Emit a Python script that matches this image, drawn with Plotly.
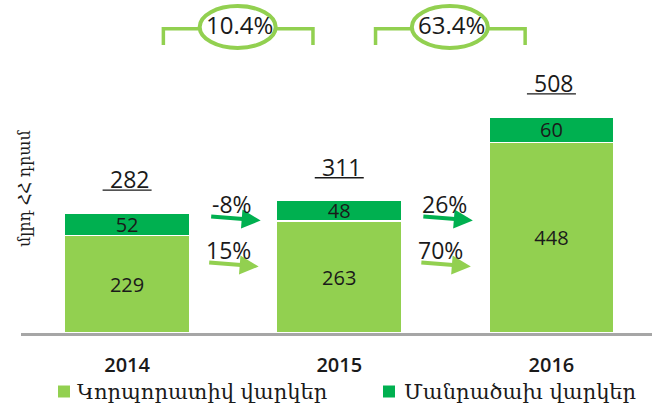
import plotly.graph_objects as go

# ---- data ----
years = ["2014", "2015", "2016"]
corporate = [229, 263, 448]
retail = [52, 48, 60]
totals = [282, 311, 508]
retail_growth = ["-8%", "26%"]
corporate_growth = ["15%", "70%"]
total_growth = ["10.4%", "63.4%"]
series_names = ["Կորպորատիվ վարկեր", "Մանրածախ վարկեր"]
y_title = "մլրդ ՀՀ դրամ"

# ---- style ----
LIGHT = "#92D050"
DARK = "#00B050"
TXT = "#1a1a1a"
NUM_FONT = "Open Sans, Noto Sans, DejaVu Sans"
ARM_FONT = "DejaVu Serif, DejaVu Sans, Noto Sans"

W, H = 652, 408
ML, MB = 21, 75
PH = H - MB
X0, X1 = -0.5, 2.474
YMAX = 783
UNIT = (W - ML) / (X1 - X0)  # pixels per category


def dx(p):
    """pixel offset -> category units"""
    return p / UNIT


def py(p):
    """pixel row -> paper y"""
    return (PH - p) / PH


def px(p):
    """pixel column -> paper x"""
    return (p - ML) / (W - ML)


fig = go.Figure()
fig.add_trace(go.Bar(
    x=years, y=corporate, name=series_names[0],
    marker=dict(color=LIGHT, line=dict(color="white", width=1.5)),
    text=corporate, textposition="inside", insidetextanchor="middle",
    constraintext="none", textangle=0,
    textfont=dict(family=NUM_FONT, size=20, color=TXT),
))
fig.add_trace(go.Bar(
    x=years, y=retail, name=series_names[1],
    marker=dict(color=DARK, line=dict(color="white", width=1.5)),
    text=retail, textposition="inside", insidetextanchor="middle",
    constraintext="none", textangle=0,
    textfont=dict(family=NUM_FONT, size=20, color=TXT),
))

annotations = []
shapes = []

# totals with underline
for i, t in enumerate(totals):
    annotations.append(dict(
        x=i, y=t, xref="x", yref="y", text=str(t), showarrow=False,
        yanchor="middle", yshift=34, xshift=2.5,
        font=dict(family=NUM_FONT, size=23, color=TXT)))
    shapes.append(dict(
        type="line", xref="x", yref="y", ysizemode="pixel", yanchor=t,
        x0=i - dx(24.5), x1=i + dx(24.5), y0=23, y1=23,
        line=dict(color=TXT, width=1.3)))

# growth arrows between years
for i in range(2):
    mid = i + 0.5
    annotations.append(dict(
        x=mid + dx(27.5), y=(PH - 220.5) / PH * YMAX, xref="x", yref="y",
        text="", showarrow=True, ax=-51, ay=-4, axref="pixel", ayref="pixel",
        arrowhead=2, arrowsize=0.95, arrowwidth=4, arrowcolor=DARK, standoff=0))
    annotations.append(dict(
        x=mid + dx(25.5), y=(PH - 266.5) / PH * YMAX, xref="x", yref="y",
        text="", showarrow=True, ax=-51, ay=-4, axref="pixel", ayref="pixel",
        arrowhead=2, arrowsize=0.95, arrowwidth=4, arrowcolor=LIGHT, standoff=0))
    annotations.append(dict(
        x=mid + dx(-1), y=py(203.5), xref="x", yref="paper",
        text=retail_growth[i], showarrow=False, yanchor="middle",
        font=dict(family=NUM_FONT, size=23, color=TXT)))
    annotations.append(dict(
        x=mid + dx(-4.5), y=py(250), xref="x", yref="paper",
        text=corporate_growth[i], showarrow=False, yanchor="middle",
        font=dict(family=NUM_FONT, size=23, color=TXT)))

    # bracket with ellipse
    c = mid + dx(5)
    shapes.append(dict(
        type="path", xref="x", yref="paper",
        path=(f"M {c - dx(74.8)} {py(45)} L {c - dx(74.8)} {py(28.7)} "
              f"L {c + dx(74.8)} {py(28.7)} L {c + dx(74.8)} {py(45)}"),
        line=dict(color=LIGHT, width=3.5)))
    ec = mid + dx(4.5)
    shapes.append(dict(
        type="circle", xref="x", yref="paper",
        x0=ec - dx(38), x1=ec + dx(38), y0=py(48), y1=py(6),
        fillcolor="white", line=dict(color=LIGHT, width=4)))
    annotations.append(dict(
        x=mid + dx(6), y=py(25), xref="x", yref="paper",
        text=total_growth[i], showarrow=False, yanchor="middle",
        font=dict(family=NUM_FONT, size=24, color=TXT)))

# y title
annotations.append(dict(
    x=px(24), y=py(189), xref="paper", yref="paper", text=y_title,
    textangle=-90, showarrow=False, xanchor="center", yanchor="middle",
    font=dict(family=ARM_FONT, size=16, color=TXT)))

# manual legend
legend_items = [(58, 75, LIGHT, series_names[0]), (383, 402, DARK, series_names[1])]
for sx, tx, col, name in legend_items:
    shapes.append(dict(
        type="rect", xref="paper", yref="paper",
        x0=px(sx), x1=px(sx + 12), y0=py(397.5), y1=py(385.5),
        fillcolor=col, line=dict(width=0)))
    annotations.append(dict(
        x=px(tx), y=py(392), xref="paper", yref="paper", text=name,
        showarrow=False, xanchor="left", yanchor="middle",
        font=dict(family=ARM_FONT, size=21, color=TXT)))

fig.update_layout(
    width=W, height=H, barmode="stack", bargap=0.41, showlegend=False,
    margin=dict(l=ML, r=0, t=0, b=MB, pad=0),
    plot_bgcolor="white", paper_bgcolor="white",
    xaxis=dict(range=[X0, X1], showline=True, linecolor="#A6A6A6", linewidth=3,
               ticks="", showgrid=False, ticklabelstandoff=12,
               tickfont=dict(family=NUM_FONT, size=20, color=TXT, weight=600)),
    yaxis=dict(range=[0, YMAX], visible=False, showgrid=False, zeroline=False),
    annotations=annotations, shapes=shapes,
)

fig.write_html("out.html", config={"displayModeBar": False},
               post_script="document.body.style.margin='0';")
